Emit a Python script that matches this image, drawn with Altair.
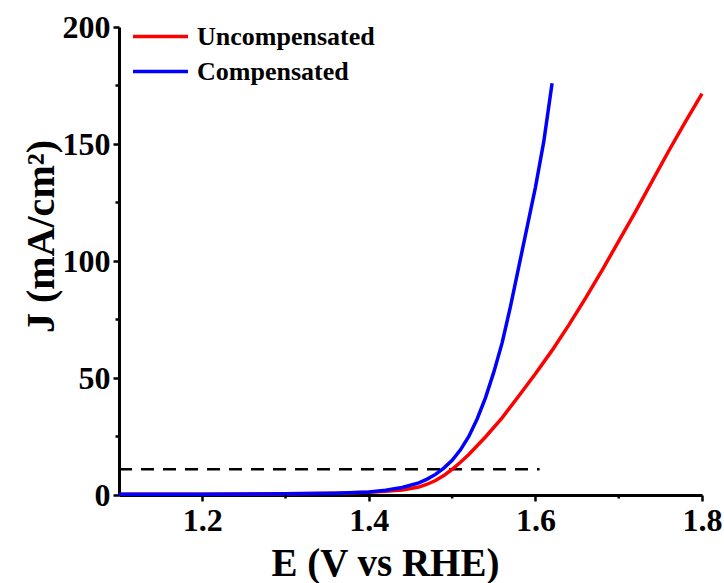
import altair as alt
import pandas as pd

# ---- data ----
series_names = ["Uncompensated", "Compensated"]
series_colors = ["#ff0000", "#0000ff"]

e_unc = [1.10, 1.20, 1.30, 1.36, 1.40, 1.42, 1.44, 1.46, 1.47, 1.48, 1.49, 1.50, 1.51, 1.52,
         1.54, 1.56, 1.58, 1.60, 1.62, 1.64, 1.66, 1.68, 1.70, 1.72, 1.74, 1.76, 1.78, 1.80]
j_unc = [0.3, 0.3, 0.5, 0.8, 1.2, 1.6, 2.1, 3.4, 4.6, 6.2, 8.3, 11.0, 14.0, 17.3,
         24.8, 33.0, 42.3, 51.8, 61.8, 72.6, 84.0, 96.0, 108.5, 121.0, 134.0, 147.0, 159.5, 171.5]

e_comp = [1.10, 1.20, 1.30, 1.36, 1.40, 1.42, 1.44, 1.46, 1.47, 1.48, 1.49, 1.50, 1.51, 1.52,
          1.53, 1.54, 1.55, 1.56, 1.57, 1.58, 1.59, 1.60, 1.61, 1.62]
j_comp = [0.3, 0.3, 0.5, 0.8, 1.3, 2.0, 3.2, 5.2, 6.8, 8.8, 11.5, 14.8, 19.3, 25.0,
          32.5, 41.5, 52.5, 65.0, 80.5, 97.5, 114.5, 131.5, 151.0, 176.0]

ref_e = [1.10, 1.605]
ref_j = 11.0

x_major = [1.2, 1.4, 1.6, 1.8]
x_minor = [1.3, 1.5, 1.7]
y_major = [0, 50, 100, 150, 200]
y_minor = [25, 75, 125, 175]

# ---- tables ----
df_unc = pd.DataFrame({"E": e_unc, "J": j_unc, "series": series_names[0]})
df_comp = pd.DataFrame({"E": e_comp, "J": j_comp, "series": series_names[1]})
df_ref = pd.DataFrame({"E": [ref_e[0]], "E2": [ref_e[1]], "J": [ref_j]})
df_xminor = pd.DataFrame({"E": x_minor})
df_yminor = pd.DataFrame({"J": y_minor})

FONT = "Liberation Serif"

x_scale = alt.Scale(domain=[1.1, 1.8], nice=False, zero=False)
y_scale = alt.Scale(domain=[0, 200], nice=False, zero=False)

x_axis = alt.Axis(values=x_major, format=".1f", title="E (V vs RHE)", grid=False,
                  labelFont=FONT, labelFontWeight="bold", labelFontSize=32, labelColor="black",
                  labelPadding=4, labelFlush=False,
                  titleFont=FONT, titleFontWeight="bold", titleFontSize=39, titleColor="black",
                  titleX=266, titleY=80, titleBaseline="alphabetic", titleAlign="center",
                  domainColor="black", domainWidth=3, tickColor="black", tickWidth=2.5, tickSize=6)
y_axis = alt.Axis(values=y_major, title="J (mA/cm²)", grid=False,
                  labelFont=FONT, labelFontWeight="bold", labelFontSize=32, labelColor="black",
                  labelPadding=3, labelFlush=False,
                  titleFont=FONT, titleFontWeight="bold", titleFontSize=40, titleColor="black",
                  titleAngle=270, titleX=-66, titleY=209, titleBaseline="alphabetic", titleAlign="center",
                  domainColor="black", domainWidth=3, tickColor="black", tickWidth=2.5, tickSize=6)

color = alt.Color("series:N",
                  scale=alt.Scale(domain=series_names, range=series_colors),
                  sort=series_names,
                  legend=alt.Legend(title=None, orient="none", legendX=26, legendY=-6,
                                    symbolType="M-2,0H2", symbolSize=756, symbolStrokeWidth=3.5,
                                    labelFont=FONT, labelFontWeight="bold", labelFontSize=26,
                                    labelColor="black", labelOffset=21, labelLimit=0,
                                    rowPadding=6, padding=0))

red = alt.Chart(df_unc).mark_line(strokeWidth=3.5).encode(
    x=alt.X("E:Q", scale=x_scale, axis=x_axis),
    y=alt.Y("J:Q", scale=y_scale, axis=y_axis),
    color=color,
)
blue = alt.Chart(df_comp).mark_line(strokeWidth=3.5).encode(
    x=alt.X("E:Q", scale=x_scale, axis=x_axis),
    y=alt.Y("J:Q", scale=y_scale, axis=y_axis),
    color=color,
)
dashed = alt.Chart(df_ref).mark_rule(color="black", strokeWidth=2.5, strokeDash=[13, 9]).encode(
    x="E:Q", x2="E2:Q", y="J:Q"
)
xminor = alt.Chart(df_xminor).mark_rule(color="black", strokeWidth=2.5).encode(
    x="E:Q", y=alt.value(468), y2=alt.value(471.5)
)
yminor = alt.Chart(df_yminor).mark_rule(color="black", strokeWidth=2.5).encode(
    y="J:Q", x=alt.value(0), x2=alt.value(-3.5)
)

chart = alt.layer(dashed, red, blue, xminor, yminor).properties(
    width=583, height=468,
    padding={"left": 119, "top": 27, "right": 22, "bottom": 88},
    autosize=alt.AutoSizeParams(type="none"),
    background="white",
).configure_view(stroke=None)

chart.save("out.html", embed_options={"renderer": "svg", "actions": False})
